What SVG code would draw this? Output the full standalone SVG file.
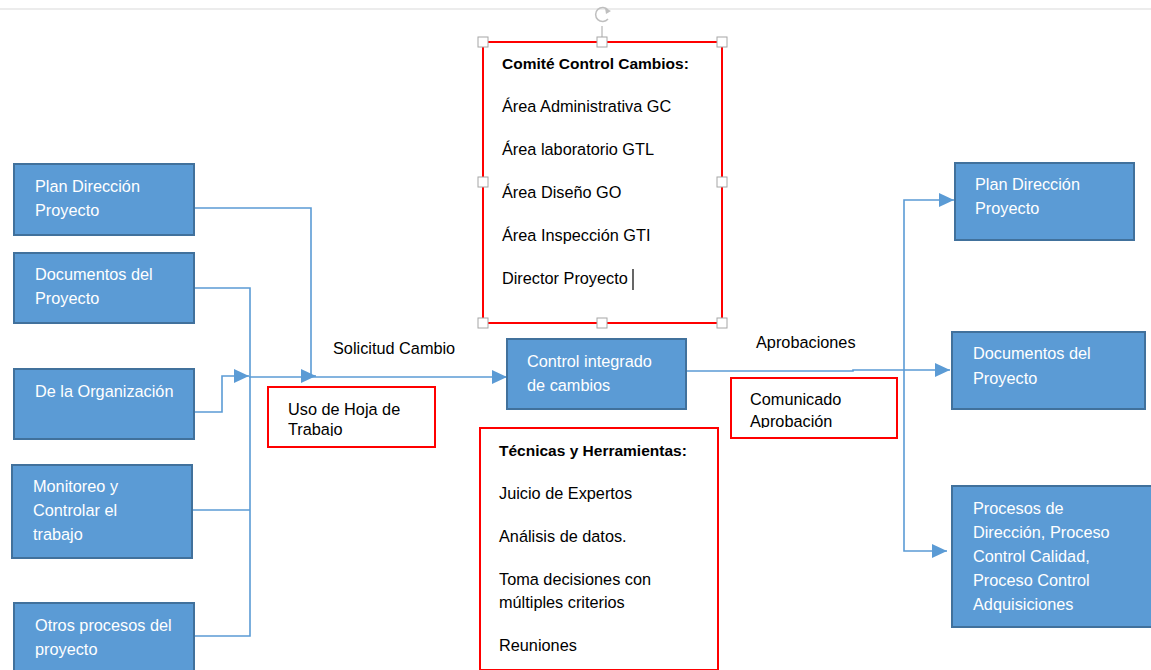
<svg xmlns="http://www.w3.org/2000/svg" width="1151" height="670" viewBox="0 0 1151 670">
  <style>
    .box { fill: #5B9BD5; stroke: #41719C; stroke-width: 2; }
    .frame { fill: #ffffff; stroke: #FF0000; stroke-width: 2; }
    .wt { font-family: "Liberation Sans", Arial, sans-serif; font-size: 16.3px; fill: #ffffff; }
    .bk { font-family: "Liberation Sans", Arial, sans-serif; font-size: 16.3px; fill: #000000; }
    .bold { font-weight: bold; font-size: 15.5px; }
    .wire { fill: none; stroke: #5B9BD5; stroke-width: 1.6; }
    .handle { fill: #ffffff; stroke: #A6A6A6; stroke-width: 1; }
  </style>
  <defs>
    <marker id="arrow" markerUnits="userSpaceOnUse" markerWidth="16" markerHeight="14" refX="15" refY="7" orient="auto">
      <path d="M0,0 L15,7 L0,14 Z" fill="#5B9BD5"/>
    </marker>
    <clipPath id="clipHoja"><rect x="269" y="388" width="165" height="48"/></clipPath>
    <clipPath id="clipComunicado"><rect x="732" y="379" width="164" height="49"/></clipPath>
  </defs>

  <rect x="0" y="0" width="1151" height="670" fill="#ffffff"/>
  <!-- page edge -->
  <line x1="0" y1="9" x2="1151" y2="9" stroke="#D9D9D9" stroke-width="1"/>

  <!-- connectors -->
  <g id="connectors">
    <path class="wire" d="M194,208 H311 V376 H316" marker-end="url(#arrow)"/>
    <path class="wire" d="M194,288 H250 V636 H194"/>
    <path class="wire" d="M192,510 H250"/>
    <path class="wire" d="M194,412 H222 V376 H249" marker-end="url(#arrow)"/>
    <path class="wire" d="M249,377 H507" marker-end="url(#arrow)"/>
    <path class="wire" d="M686,371 H853 V370 H950" marker-end="url(#arrow)"/>
    <path class="wire" d="M904,370 V200 H954" marker-end="url(#arrow)"/>
    <path class="wire" d="M904,370 V551 H947" marker-end="url(#arrow)"/>
  </g>

  <!-- inputs -->
  <g id="in-plan">
    <rect class="box" x="14" y="164" width="180" height="71"/>
    <text class="wt" x="35" y="192">Plan Dirección</text>
    <text class="wt" x="35" y="216">Proyecto</text>
  </g>
  <g id="in-documentos">
    <rect class="box" x="14" y="253" width="180" height="70"/>
    <text class="wt" x="35" y="280">Documentos del</text>
    <text class="wt" x="35" y="304">Proyecto</text>
  </g>
  <g id="in-organizacion">
    <rect class="box" x="14" y="369" width="180" height="70"/>
    <text class="wt" x="35" y="397">De la Organización</text>
  </g>
  <g id="in-monitoreo">
    <rect class="box" x="12" y="465" width="180" height="93"/>
    <text class="wt" x="33" y="492">Monitoreo y</text>
    <text class="wt" x="33" y="516">Controlar el</text>
    <text class="wt" x="33" y="540">trabajo</text>
  </g>
  <g id="in-otros">
    <rect class="box" x="14" y="603" width="180" height="75"/>
    <text class="wt" x="35" y="631">Otros procesos del</text>
    <text class="wt" x="35" y="655">proyecto</text>
  </g>

  <!-- labels -->
  <g id="lbl-solicitud">
    <text class="bk" x="333" y="354">Solicitud Cambio</text>
  </g>
  <g id="lbl-aprobaciones">
    <text class="bk" x="756" y="348">Aprobaciones</text>
  </g>

  <g id="hoja-trabajo">
    <rect class="frame" x="268" y="387" width="167" height="60"/>
    <g clip-path="url(#clipHoja)">
      <text class="bk" x="288" y="415">Uso de Hoja de</text>
      <text class="bk" x="288" y="435">Trabajo</text>
    </g>
  </g>

  <!-- process -->
  <g id="control-integrado">
    <rect class="box" x="507" y="339" width="179" height="70"/>
    <text class="wt" x="527" y="367">Control integrado</text>
    <text class="wt" x="527" y="391">de cambios</text>
  </g>

  <g id="comite">
    <rect class="frame" x="483" y="42" width="239" height="281"/>
    <text class="bk bold" x="502" y="69">Comité Control Cambios:</text>
    <text class="bk" x="502" y="112">Área Administrativa GC</text>
    <text class="bk" x="502" y="155">Área laboratorio GTL</text>
    <text class="bk" x="502" y="198">Área Diseño GO</text>
    <text class="bk" x="502" y="241">Área Inspección GTI</text>
    <text class="bk" x="502" y="284">Director Proyecto</text>
    <line x1="633" y1="269" x2="633" y2="290" stroke="#000000" stroke-width="1.2"/>
    <!-- selection handles -->
    <line x1="602" y1="26" x2="602" y2="37" stroke="#A6A6A6" stroke-width="1"/>
    <path d="M608,10 A7,7 0 1 0 608,19" fill="none" stroke="#BFBFBF" stroke-width="1.5"/>
    <path d="M605,8 L611,11 L606,14 Z" fill="#BFBFBF"/>
    <rect class="handle" x="478" y="37" width="10" height="10"/>
    <rect class="handle" x="597" y="37" width="10" height="10"/>
    <rect class="handle" x="717" y="37" width="10" height="10"/>
    <rect class="handle" x="478" y="177" width="10" height="10"/>
    <rect class="handle" x="717" y="177" width="10" height="10"/>
    <rect class="handle" x="478" y="318" width="10" height="10"/>
    <rect class="handle" x="597" y="318" width="10" height="10"/>
    <rect class="handle" x="717" y="318" width="10" height="10"/>
  </g>

  <g id="tecnicas">
    <rect class="frame" x="480" y="428" width="238" height="242"/>
    <text class="bk bold" x="499" y="456">Técnicas y Herramientas:</text>
    <text class="bk" x="499" y="499">Juicio de Expertos</text>
    <text class="bk" x="499" y="542">Análisis de datos.</text>
    <text class="bk" x="499" y="585">Toma decisiones con</text>
    <text class="bk" x="499" y="608">múltiples criterios</text>
    <text class="bk" x="499" y="651">Reuniones</text>
  </g>

  <g id="comunicado">
    <rect class="frame" x="731" y="378" width="166" height="60"/>
    <g clip-path="url(#clipComunicado)">
      <text class="bk" x="750" y="405">Comunicado</text>
      <text class="bk" x="750" y="427">Aprobación</text>
    </g>
  </g>

  <!-- outputs -->
  <g id="out-plan">
    <rect class="box" x="955" y="163" width="179" height="77"/>
    <text class="wt" x="975" y="190">Plan Dirección</text>
    <text class="wt" x="975" y="214">Proyecto</text>
  </g>
  <g id="out-documentos">
    <rect class="box" x="952" y="332" width="193" height="77"/>
    <text class="wt" x="973" y="359">Documentos del</text>
    <text class="wt" x="973" y="384">Proyecto</text>
  </g>
  <g id="out-procesos">
    <rect class="box" x="952" y="486" width="210" height="141"/>
    <text class="wt" x="973" y="514">Procesos de</text>
    <text class="wt" x="973" y="538">Dirección, Proceso</text>
    <text class="wt" x="973" y="562">Control Calidad,</text>
    <text class="wt" x="973" y="586">Proceso Control</text>
    <text class="wt" x="973" y="610">Adquisiciones</text>
  </g>
</svg>
